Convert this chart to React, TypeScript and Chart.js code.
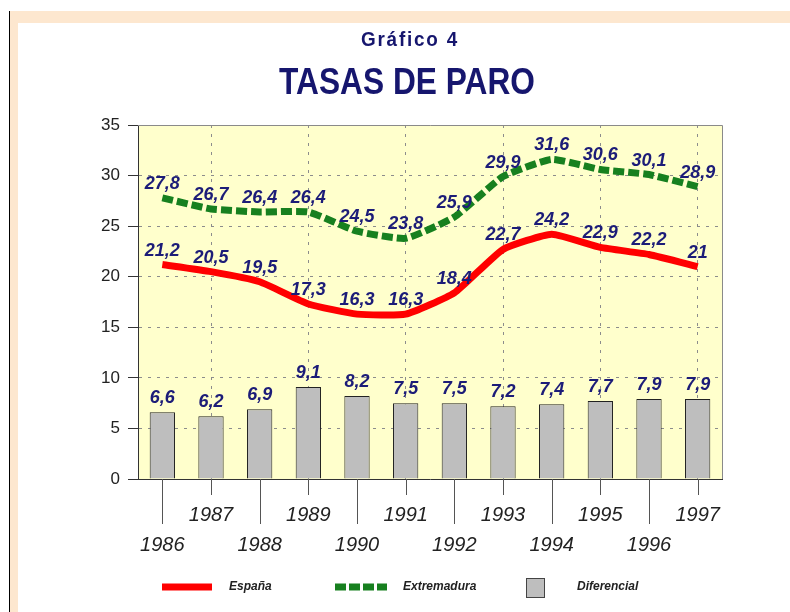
import React, { useEffect, useRef } from 'react';
import { Chart, registerables } from 'chart.js';

Chart.register(...registerables);

const years = ['1986', '1987', '1988', '1989', '1990', '1991', '1992', '1993', '1994', '1995', '1996', '1997'];
const espana = [21.2, 20.5, 19.5, 17.3, 16.3, 16.3, 18.4, 22.7, 24.2, 22.9, 22.2, 21];
const extremadura = [27.8, 26.7, 26.4, 26.4, 24.5, 23.8, 25.9, 29.9, 31.6, 30.6, 30.1, 28.9];
const diferencial = [6.6, 6.2, 6.9, 9.1, 8.2, 7.5, 7.5, 7.2, 7.4, 7.7, 7.9, 7.9];
const yTicks = [0, 5, 10, 15, 20, 25, 30, 35];
const seriesNames = ['España', 'Extremadura', 'Diferencial'];
const chartTitle = 'Gráfico 4';
const chartSubtitle = 'TASAS DE PARO';

const FONT = "'Liberation Sans', Arial, sans-serif";
const PEACH = '#FDE7CF';
const PLOT_BG = '#FFFFCC';
const NAVY = '#16166E';
const LABEL_NAVY = '#1C1C78';

const fmt = (v: number) => String(v).replace('.', ',');

const decorPlugin = {
  id: 'decor',
  beforeDraw(chart: any) {
    const { ctx, chartArea } = chart;
    ctx.save();
    ctx.fillStyle = PLOT_BG;
    ctx.fillRect(chartArea.left, chartArea.top, chartArea.right - chartArea.left, chartArea.bottom - chartArea.top);
    ctx.restore();
  },
  afterDatasetsDraw(chart: any) {
    const { ctx } = chart;
    ctx.save();
    ctx.font = `italic bold 18px ${FONT}`;
    ctx.fillStyle = LABEL_NAVY;
    ctx.textAlign = 'center';
    ctx.textBaseline = 'middle';
    chart.data.datasets.forEach((ds: any, di: number) => {
      const meta = chart.getDatasetMeta(di);
      meta.data.forEach((el: any, i: number) => {
        const v = ds.data[i];
        ctx.fillText(fmt(v), el.x, el.y - 14);
      });
    });
    ctx.restore();
  },
  afterDraw(chart: any) {
    const { ctx, chartArea } = chart;
    const xs = chart.scales.x;
    ctx.save();
    // top & right frame
    ctx.strokeStyle = '#8a8a8a';
    ctx.lineWidth = 1;
    ctx.beginPath();
    ctx.moveTo(chartArea.left, chartArea.top + 0.5);
    ctx.lineTo(chartArea.right + 0.5, chartArea.top + 0.5);
    ctx.lineTo(chartArea.right + 0.5, chartArea.bottom);
    ctx.stroke();
    // staggered x tick marks
    ctx.strokeStyle = '#555';
    years.forEach((_, i) => {
      const x = Math.round(xs.getPixelForTick(i)) + 0.5;
      const len = i % 2 === 0 ? 45 : 16;
      ctx.beginPath();
      ctx.moveTo(x, chartArea.bottom);
      ctx.lineTo(x, chartArea.bottom + len);
      ctx.stroke();
    });
    // titles
    ctx.fillStyle = NAVY;
    ctx.textAlign = 'center';
    ctx.textBaseline = 'alphabetic';
    ctx.save();
    ctx.translate(410, 46);
    ctx.scale(0.9, 1);
    ctx.font = `bold 21px ${FONT}`;
    (ctx as any).letterSpacing = '2px';
    ctx.fillText(chartTitle, 0, 0);
    ctx.restore();
    ctx.save();
    ctx.translate(407, 94);
    ctx.scale(0.88, 1);
    ctx.font = `bold 36px ${FONT}`;
    ctx.fillText(chartSubtitle, 0, 0);
    ctx.restore();
    // legend
    const ds = chart.data.datasets;
    const ly = 587;
    ctx.lineCap = 'butt';
    ctx.lineWidth = 7;
    ctx.strokeStyle = ds[0].borderColor;
    ctx.setLineDash([]);
    ctx.beginPath();
    ctx.moveTo(162, ly);
    ctx.lineTo(212, ly);
    ctx.stroke();
    ctx.strokeStyle = ds[1].borderColor;
    ctx.setLineDash([11, 3]);
    ctx.beginPath();
    ctx.moveTo(335, ly);
    ctx.lineTo(387, ly);
    ctx.stroke();
    ctx.setLineDash([]);
    ctx.fillStyle = ds[2].backgroundColor;
    ctx.fillRect(526, 578, 18, 19);
    ctx.lineWidth = 1;
    ctx.strokeStyle = '#444';
    ctx.strokeRect(526.5, 578.5, 18, 19);
    ctx.fillStyle = '#222';
    ctx.font = `italic bold 12px ${FONT}`;
    ctx.textAlign = 'left';
    ctx.textBaseline = 'middle';
    ctx.fillText(ds[0].label, 229, ly);
    ctx.fillText(ds[1].label, 403, ly);
    ctx.fillText(ds[2].label, 577, ly);
    ctx.restore();
  },
};

export default function App() {
  const ref = useRef<HTMLCanvasElement | null>(null);

  useEffect(() => {
    if (!ref.current) return;
    const chart = new Chart(ref.current, {
      type: 'bar',
      data: {
        labels: years,
        datasets: [
          {
            type: 'line',
            label: seriesNames[0],
            data: espana,
            borderColor: '#FF0000',
            backgroundColor: '#FF0000',
            borderWidth: 7,
            pointRadius: 0,
            tension: 0.15,
            order: 1,
          } as any,
          {
            type: 'line',
            label: seriesNames[1],
            data: extremadura,
            borderColor: '#17801F',
            backgroundColor: '#17801F',
            borderWidth: 7,
            borderDash: [11, 4],
            pointRadius: 0,
            tension: 0.15,
            order: 2,
          } as any,
          {
            type: 'bar',
            label: seriesNames[2],
            data: diferencial,
            backgroundColor: '#BEBEBE',
            borderColor: '#222',
            borderWidth: 1,
            barPercentage: 0.52,
            categoryPercentage: 1,
            order: 3,
          },
        ],
      },
      options: {
        responsive: false,
        animation: false,
        devicePixelRatio: 1,
        layout: { padding: { left: 98, right: 68, top: 125, bottom: 53 } },
        plugins: {
          legend: { display: false },
          title: { display: false },
          tooltip: { enabled: false },
        },
        scales: {
          x: {
            offset: true,
            afterFit: (s: any) => { s.height = 80; },
            grid: {
              offset: false,
              drawTicks: false,
              color: (c: any) => (c.index % 2 === 1 ? '#8c8c8c' : 'rgba(0,0,0,0)'),
              lineWidth: 1,
            },
            border: { display: true, color: '#333', width: 1, dash: [3, 6] },
            ticks: {
              autoSkip: false,
              maxRotation: 0,
              padding: 21,
              color: '#222',
              font: { family: FONT, size: 20, style: 'italic', lineHeight: 1.5 },
              callback: (_v: any, i: number) => (i % 2 === 0 ? ['', years[i]] : [years[i]]),
            },
          },
          y: {
            min: yTicks[0],
            max: yTicks[yTicks.length - 1],
            afterFit: (s: any) => { s.width = 40; },
            ticks: {
              stepSize: yTicks[1] - yTicks[0],
              padding: 8,
              color: '#222',
              font: { family: FONT, size: 17 },
            },
            grid: {
              drawTicks: true,
              tickLength: 10,
              tickColor: '#333',
              tickWidth: 1,
              color: (c: any) => {
                const v = c.tick ? c.tick.value : 0;
                return v === yTicks[0] || v === yTicks[yTicks.length - 1] ? 'rgba(0,0,0,0)' : '#8c8c8c';
              },
              lineWidth: 1,
            },
            border: { display: true, color: '#333', width: 1, dash: [3, 6] },
          },
        },
      },
      plugins: [decorPlugin],
    } as any);
    return () => chart.destroy();
  }, []);

  return (
    <div style={{ position: 'fixed', left: 0, top: 0, width: 790, height: 612, background: '#fff', overflow: 'hidden' }}>
      <div style={{ position: 'absolute', left: 10, top: 11, width: 780, height: 12, background: PEACH }} />
      <div style={{ position: 'absolute', left: 10, top: 11, width: 8, height: 601, background: PEACH }} />
      <div style={{ position: 'absolute', left: 9, top: 11, width: 1, height: 601, background: '#000' }} />
      <canvas ref={ref} width={790} height={612} style={{ position: 'absolute', left: 0, top: 0, width: 790, height: 612 }} />
    </div>
  );
}
